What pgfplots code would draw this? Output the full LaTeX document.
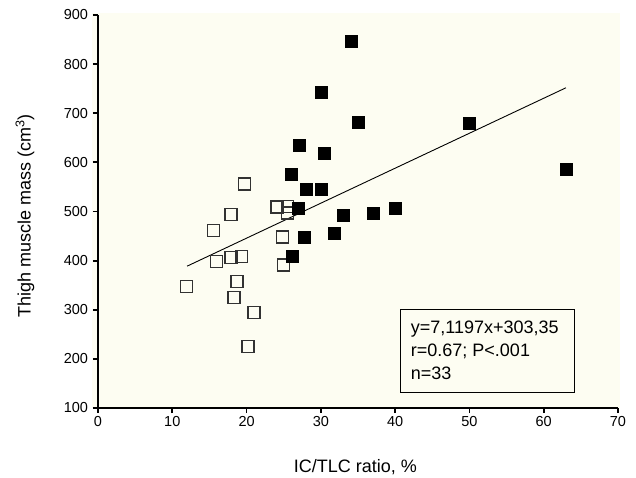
\documentclass[border=0pt]{standalone}
\usepackage{fontspec}
\setmainfont{Liberation Sans}
\usepackage{pgfplots}
\pgfplotsset{compat=1.18}
\definecolor{cream}{RGB}{253,253,242}
\definecolor{opengray}{RGB}{50,50,50}

\begin{document}
\begin{tikzpicture}
\path[use as bounding box] (-98pt,-69pt) rectangle (538pt,408pt);
\fill[cream] (-6pt,0pt) rectangle (522pt,395pt);
\begin{axis}[
  at={(0pt,0pt)}, anchor=south west,
  scale only axis,
  width=520pt, height=393pt,
  xmin=0, xmax=70, ymin=100, ymax=900,
  xtick={0,10,...,70},
  ytick={100,200,...,900},
  axis x line*=bottom, axis y line*=left,
  axis line style={line width=1.8pt, black},
  tick align=outside,
  major tick length=5pt,
  tick style={line width=1.8pt, black},
  /pgf/number format/assume math mode=true,
  tick label style={font=\fontsize{14.5}{15}\selectfont},
  yticklabel style={xshift=-1.5pt},
  xlabel={IC/TLC ratio, \%},
  ylabel={Thigh muscle mass (cm\textsuperscript{3})},
  label style={font=\fontsize{18}{18}\selectfont},
  xlabel style={at={(axis description cs:0.495,-0.150)}, anchor=center},
  ylabel style={at={(axis description cs:-0.1404,0.489)}, anchor=center},
  clip=false,
]
% open squares
\addplot[only marks, mark=square, mark size=6pt, mark options={draw=opengray, line width=1.2pt}] coordinates {
  (11.9,347) (15.5,461) (16.0,398) (17.9,494) (17.9,406) (19.3,408)
  (18.7,357) (18.3,325) (19.7,556) (21.0,294) (20.2,225) (24.1,509)
  (25.5,510) (25.5,497) (24.8,448) (25.0,391)
};
% filled squares
\addplot[only marks, mark=square*, mark size=6pt, mark options={draw=black, fill=black}] coordinates {
  (34.1,847) (30.0,743) (35.0,682) (50.0,680) (27.1,634) (30.5,619)
  (63.0,587) (26.0,576) (28.0,545) (30.1,545) (27.0,507) (33.0,492)
  (37.1,496) (40.0,506) (31.8,456) (27.7,448) (26.1,410)
};
% regression line
\addplot[black, line width=0.9pt] coordinates {(12,388.79) (63,751.89)};
\draw[line width=1pt, black] (axis cs:40.74,132) rectangle (axis cs:64.1,299.6);
\node[anchor=north west, align=left, inner sep=0pt,
  font=\fontsize{18}{23}\selectfont] at (axis cs:42.1,277)
  {y=7,1197x+303,35\\r=0.67; P<.001\\n=33};
\end{axis}
\end{tikzpicture}
\end{document}
